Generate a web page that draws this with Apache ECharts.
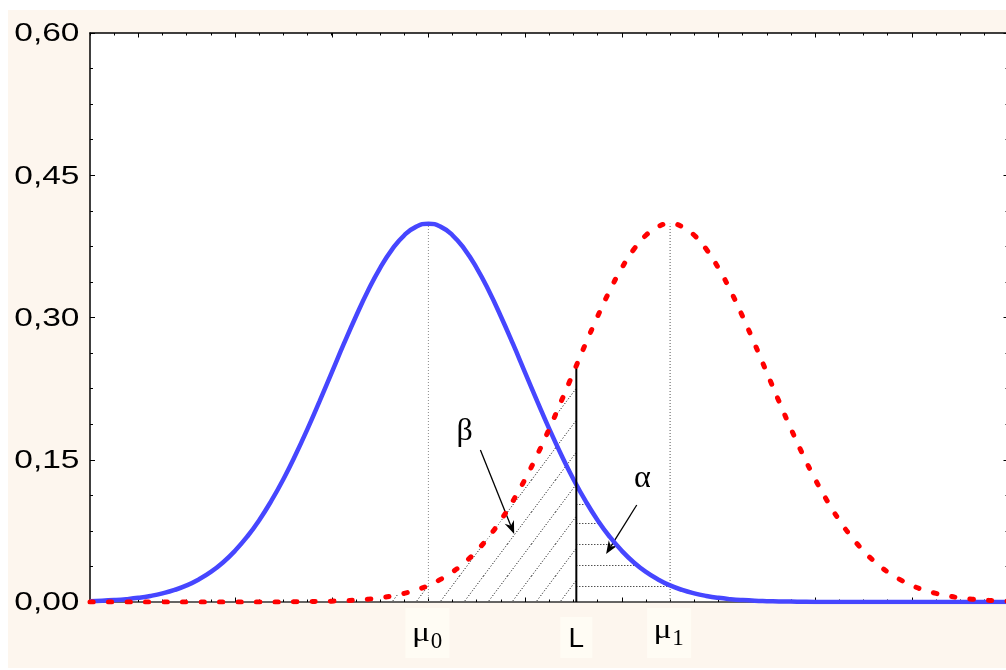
<!DOCTYPE html>
<html>
<head>
<meta charset="utf-8">
<script src="https://cdn.jsdelivr.net/npm/echarts@6/dist/echarts.min.js"></script>
<style>
  html, body { margin: 0; padding: 0; background: #ffffff; }
  #frame { position: absolute; left: 8px; top: 10px; width: 998px; height: 658px; background: #fdf6ee; }
  #chart { position: absolute; left: 0; top: 0; width: 1006px; height: 670px; }
</style>
</head>
<body>
<div id="frame"></div>
<div id="chart"></div>
<script>
// Sample positions along the horizontal axis (in units of sigma), step 0.125
const xs = [-3.5, -3.375, -3.25, -3.125, -3, -2.875, -2.75, -2.625, -2.5, -2.375, -2.25, -2.125,
  -2, -1.875, -1.75, -1.625, -1.5, -1.375, -1.25, -1.125, -1, -0.875, -0.75, -0.625,
  -0.5, -0.375, -0.25, -0.125, 0, 0.125, 0.25, 0.375, 0.5, 0.625, 0.75, 0.875,
  1, 1.125, 1.25, 1.375, 1.5, 1.625, 1.75, 1.875, 2, 2.125, 2.25, 2.375,
  2.5, 2.625, 2.75, 2.875, 3, 3.125, 3.25, 3.375, 3.5, 3.625, 3.75, 3.875,
  4, 4.125, 4.25, 4.375, 4.5, 4.625, 4.75, 4.875, 5, 5.125, 5.25, 5.375,
  5.5, 5.625, 5.75, 5.875, 6];

// Density under H0 (solid blue curve)
const densityH0 = [0.0009, 0.0013, 0.0020, 0.0030, 0.0044, 0.0064, 0.0091, 0.0127, 0.0175, 0.0238, 0.0317, 0.0417,
  0.0540, 0.0688, 0.0863, 0.1066, 0.1295, 0.1550, 0.1826, 0.2119, 0.2420, 0.2721, 0.3011, 0.3282,
  0.3521, 0.3719, 0.3867, 0.3958, 0.3989, 0.3958, 0.3867, 0.3719, 0.3521, 0.3282, 0.3011, 0.2721,
  0.2420, 0.2119, 0.1826, 0.1550, 0.1295, 0.1066, 0.0863, 0.0688, 0.0540, 0.0417, 0.0317, 0.0238,
  0.0175, 0.0127, 0.0091, 0.0064, 0.0044, 0.0030, 0.0020, 0.0013, 0.0009, 0.0006, 0.0004, 0.0002,
  0.0001, 0.0001, 0, 0, 0, 0, 0, 0, 0, 0, 0, 0,
  0, 0, 0, 0, 0];

// Density under H1 (dotted red curve)
const densityH1 = [0, 0, 0, 0, 0, 0, 0, 0, 0, 0, 0, 0,
  0, 0, 0, 0.0001, 0.0001, 0.0002, 0.0004, 0.0006, 0.0009, 0.0013, 0.0020, 0.0030,
  0.0044, 0.0064, 0.0091, 0.0127, 0.0175, 0.0238, 0.0317, 0.0417, 0.0540, 0.0688, 0.0863, 0.1066,
  0.1295, 0.1550, 0.1826, 0.2119, 0.2420, 0.2721, 0.3011, 0.3282, 0.3521, 0.3719, 0.3867, 0.3958,
  0.3989, 0.3958, 0.3867, 0.3719, 0.3521, 0.3282, 0.3011, 0.2721, 0.2420, 0.2119, 0.1826, 0.1550,
  0.1295, 0.1066, 0.0863, 0.0688, 0.0540, 0.0417, 0.0317, 0.0238, 0.0175, 0.0127, 0.0091, 0.0064,
  0.0044, 0.0030, 0.0020, 0.0013, 0.0009];

// Key positions
const mu0 = 0;
const mu1 = 2.5;
const critical = 1.53;        // L
const peak = 0.3989;
const criticalTop = 0.246;    // height of the L line (H1 density at L)
const betaFrom = -0.5;        // hatching of beta starts here

// Axis ranges and ticks
const xRange = [-3.5, 6];
const yRange = [0, 0.6];
const yTicks = [0, 0.15, 0.30, 0.45, 0.60];
const yTickLabels = ['0,00', '0,15', '0,30', '0,45', '0,60'];
const xMajorTicks = [-3, -2, -1, 0, 1, 2, 3, 4, 5, 6];

// Alpha region: horizontal hatch lines from L to the H0 curve
const alphaHatchY = [0.0172, 0.0387, 0.0612, 0.083, 0.103];
const alphaHatchEnd = [2.479, 2.168, 1.948, 1.793, 1.652];

// Annotation arrows [x1, y1, x2, y2] and Greek labels
const betaArrow = [0.538, 0.1603, 0.887, 0.0717];
const alphaArrow = [2.155, 0.1023, 1.838, 0.0506];
const greekLabels = ['β', 'α'];
const greekPos = [[0.375, 0.1796], [2.212, 0.1297]];

// Names under the axis
const axisNamePos = [mu0, critical, mu1];
const axisNameMain = ['μ', 'L', 'μ'];
const axisNameSub = ['0', '', '1'];

const SERIF = '"Liberation Serif", "DejaVu Serif", serif';
const SANS = '"Liberation Sans", Arial, sans-serif';

// Tile with one dotted diagonal line; repeating it gives parallel hatching
function diagonalTile(w, h, shift) {
  const c = document.createElement('canvas');
  c.width = w; c.height = h;
  const g = c.getContext('2d');
  g.strokeStyle = '#000';
  g.lineWidth = 1;
  g.setLineDash([1, 2]);
  for (let k = -1; k <= 1; k++) {
    const x0 = shift + k * w;
    g.beginPath();
    g.moveTo(x0, h);
    g.lineTo(x0 + w, 0);
    g.stroke();
  }
  return c;
}

const pairs = (ys) => xs.map((x, i) => [x, ys[i]]);
const betaArea = xs.map((x, i) => [x, densityH1[i]])
  .filter(p => p[0] >= betaFrom && p[0] < critical)
  .concat([[critical, criticalTop]]);

const chart = echarts.init(document.getElementById('chart'), null, { renderer: 'canvas' });

const baseX = {
  type: 'value', min: xRange[0], max: xRange[1], interval: 0.25,
  axisLabel: { show: false }, splitLine: { show: false },
  axisTick: { show: true, inside: true, length: 2.5, lineStyle: { color: '#000', width: 1 } }
};
const baseY = {
  type: 'value', min: yRange[0], max: yRange[1], interval: 0.15,
  axisLabel: { show: false }, splitLine: { show: false },
  axisTick: { show: true, inside: true, length: 5, lineStyle: { color: '#000', width: 1 } },
  minorTick: { show: true, splitNumber: 4, length: 3, lineStyle: { color: '#000', width: 1 } }
};

function centeredText(x, y, text, font, scaleX) {
  return { type: 'text', x: x, y: y, scaleX: scaleX || 1,
    style: { text: text, font: font, fill: '#000',
      align: 'center', verticalAlign: 'middle', textAlign: 'center', textVerticalAlign: 'middle' } };
}

const option = {
  animation: false,
  backgroundColor: 'transparent',
  grid: {
    left: 90, top: 33, width: 918.5, height: 569,
    show: true, backgroundColor: '#ffffff', borderWidth: 0,
    outerBoundsMode: 'none', containLabel: false
  },
  xAxis: [
    Object.assign({}, baseX, { position: 'bottom',
      axisLine: { show: true, onZero: false, lineStyle: { color: '#333', width: 1.5 } } }),
    Object.assign({}, baseX, { position: 'top',
      axisLine: { show: true, onZero: false, lineStyle: { color: '#000', width: 1.5 } } })
  ],
  yAxis: [
    Object.assign({}, baseY, { position: 'left',
      axisLine: { show: true, onZero: false, lineStyle: { color: '#000', width: 1.5 } } }),
    Object.assign({}, baseY, { position: 'right',
      axisLine: { show: true, onZero: false, lineStyle: { color: '#000', width: 1.5 } } })
  ],
  series: [
    // beta region: diagonal hatching under the H1 curve left of L
    {
      type: 'line', data: betaArea, smooth: 0.5, symbol: 'none', silent: true,
      lineStyle: { width: 0, opacity: 0 },
      areaStyle: { color: { image: diagonalTile(24, 32, 3.5), repeat: 'repeat' }, opacity: 1 }
    },
    // alpha region: horizontal hatch lines
    {
      type: 'custom', silent: true,
      data: alphaHatchY.map((y, i) => [critical, y, alphaHatchEnd[i]]),
      renderItem: function (params, api) {
        const a = api.coord([api.value(0), api.value(1)]);
        const b = api.coord([api.value(2), api.value(1)]);
        const y = Math.round(a[1]) + 0.5;
        return { type: 'line', shape: { x1: a[0], y1: y, x2: b[0], y2: y },
          style: { stroke: '#000', lineWidth: 1, lineDash: [1, 2] } };
      }
    },
    // vertical dotted guides at the two means
    {
      type: 'line', data: [[mu0, 0], [mu0, peak]], symbol: 'none', silent: true,
      lineStyle: { color: '#8a8a8a', width: 1, type: [1, 2] }
    },
    {
      type: 'line', data: [[mu1, 0], [mu1, peak]], symbol: 'none', silent: true,
      lineStyle: { color: '#555', width: 1, type: [1, 2] }
    },
    // H0 density
    {
      type: 'line', data: pairs(densityH0), smooth: 0.5, symbol: 'none', silent: true,
      lineStyle: { color: '#4646ff', width: 4.5 }
    },
    // H1 density
    {
      type: 'line', data: pairs(densityH1), smooth: 0.5, symbol: 'none', silent: true,
      lineStyle: { color: '#ff0000', width: 5, type: [3.3, 15.2], cap: 'round' }
    },
    // critical value L
    {
      type: 'line', data: [[critical, 0], [critical, criticalTop]], symbol: 'none', silent: true,
      lineStyle: { color: '#000', width: 2 }
    },
    // arrows pointing at the beta and alpha regions
    {
      type: 'custom', silent: true, data: [betaArrow, alphaArrow],
      renderItem: function (params, api) {
        const p1 = api.coord([api.value(0), api.value(1)]);
        const p2 = api.coord([api.value(2), api.value(3)]);
        const a = Math.atan2(p2[1] - p1[1], p2[0] - p1[0]);
        const ux = Math.cos(a), uy = Math.sin(a);
        const len = 13, half = 5, notch = 9;
        const back = [p2[0] - ux * len, p2[1] - uy * len];
        const left = [back[0] - uy * half, back[1] + ux * half];
        const right = [back[0] + uy * half, back[1] - ux * half];
        const inner = [p2[0] - ux * notch, p2[1] - uy * notch];
        return { type: 'group', children: [
          { type: 'line', shape: { x1: p1[0], y1: p1[1], x2: inner[0], y2: inner[1] },
            style: { stroke: '#000', lineWidth: 1.3 } },
          { type: 'polygon', shape: { points: [p2, left, inner, right] }, style: { fill: '#000' } }
        ] };
      }
    },
    // Greek letters beta / alpha
    {
      type: 'custom', silent: true, data: greekPos,
      renderItem: function (params, api) {
        const p = api.coord([api.value(0), api.value(1)]);
        return centeredText(p[0], p[1], greekLabels[params.dataIndex], '32px ' + SERIF);
      }
    },
    // longer major ticks on the bottom and top x axes
    {
      type: 'custom', silent: true, data: xMajorTicks.map(v => [v, yRange[0]]),
      renderItem: function (params, api) {
        const b = api.coord([api.value(0), yRange[0]]);
        const t = api.coord([api.value(0), yRange[1]]);
        const x = Math.round(b[0]) + 0.5;
        return { type: 'group', children: [
          { type: 'line', shape: { x1: x, y1: b[1], x2: x, y2: b[1] - 4.5 }, style: { stroke: '#000', lineWidth: 1 } },
          { type: 'line', shape: { x1: x, y1: t[1], x2: x, y2: t[1] + 4.5 }, style: { stroke: '#000', lineWidth: 1 } }
        ] };
      }
    },
    // y tick labels with comma decimals
    {
      type: 'custom', silent: true, data: yTicks.map(v => [xRange[0], v]),
      renderItem: function (params, api) {
        const p = api.coord([xRange[0], api.value(1)]);
        return { type: 'text', x: p[0] - 10.5, y: p[1] + 1.5, scaleX: 1.34,
          style: { text: yTickLabels[params.dataIndex], font: '25px ' + SANS, fill: '#000',
            align: 'right', verticalAlign: 'middle', textAlign: 'right', textVerticalAlign: 'middle' } };
      }
    },
    // names under the x axis: mu0, L, mu1
    {
      type: 'custom', silent: true, data: axisNamePos.map(v => [v, yRange[0]]),
      renderItem: function (params, api) {
        const i = params.dataIndex;
        const p = api.coord([api.value(0), yRange[0]]);
        const children = [];
        if (axisNameSub[i]) {
          const lift = i === 2 ? -3 : 0;
          children.push({ type: 'rect', shape: { x: p[0] - 23, y: p[1] + 6, width: 44, height: 50 },
            style: { fill: '#fffcf4' } });
          children.push(centeredText(p[0] - 7.5, p[1] + 32 + lift, axisNameMain[i], '28px ' + SERIF, 1.2));
          children.push(centeredText(p[0] + 8, p[1] + 40 + lift, axisNameSub[i], '23px ' + SERIF));
        } else {
          children.push({ type: 'rect', shape: { x: p[0] - 16, y: p[1] + 15, width: 32, height: 41 },
            style: { fill: '#fffcf4' } });
          children.push(centeredText(p[0], p[1] + 37, axisNameMain[i], '28px ' + SANS));
        }
        return { type: 'group', children: children };
      }
    }
  ]
};

chart.setOption(option);
</script>
</body>
</html>
